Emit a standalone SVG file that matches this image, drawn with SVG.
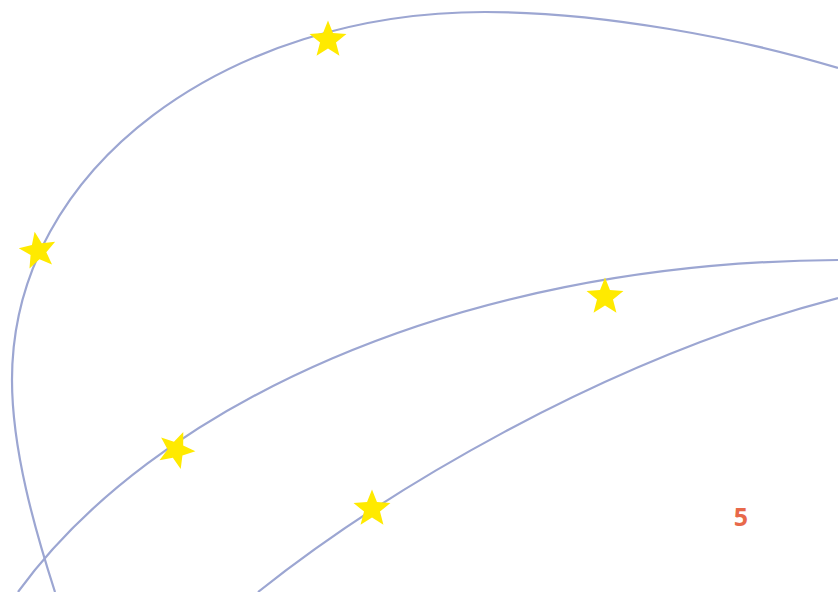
<svg xmlns="http://www.w3.org/2000/svg" xmlns:xlink="http://www.w3.org/1999/xlink" width="838" height="592" viewBox="0 0 838 592">
  <style>
    .curve { fill: none; stroke: #9ca6d2; stroke-width: 2.2; }
    .star { fill: #ffea00; stroke: none; }
    .lbl { font-family: "Open Sans", "Liberation Sans", sans-serif; font-weight: 700; font-size: 25px; fill: #e8694a; }
  </style>
  <defs>
    <polygon id="star" class="star" points="0,-18 4.6,-6.4 17.1,-5.6 7.4,2.4 10.6,14.6 0,7.8 -10.6,14.6 -7.4,2.4 -17.1,-5.6 -4.6,-6.4"/>
  </defs>
  <rect width="838" height="592" fill="#ffffff"/>
  <g id="connectors">
    <path class="curve" d="M55,592 C35,530 12,450 12,380 C12,165 230,12 485,12 C600,12 740,38 838,68"/>
    <path class="curve" d="M18,592 C150,410 450,262 838,260"/>
    <path class="curve" d="M258,592 C380,495 600,360 838,298"/>
  </g>
  <g id="star1"><use xlink:href="#star" href="#star" transform="translate(328,40) scale(1.08)"/></g>
  <g id="star2"><use xlink:href="#star" href="#star" transform="translate(38,251) rotate(-10) scale(1.08)"/></g>
  <g id="star3"><use xlink:href="#star" href="#star" transform="translate(605,297) scale(1.08)"/></g>
  <g id="star4"><use xlink:href="#star" href="#star" transform="translate(176,450) rotate(22) scale(1.08)"/></g>
  <g id="star5"><use xlink:href="#star" href="#star" transform="translate(372,509) scale(1.08)"/></g>
  <g id="label5"><text class="lbl" x="741" y="526" text-anchor="middle">5</text></g>
</svg>
